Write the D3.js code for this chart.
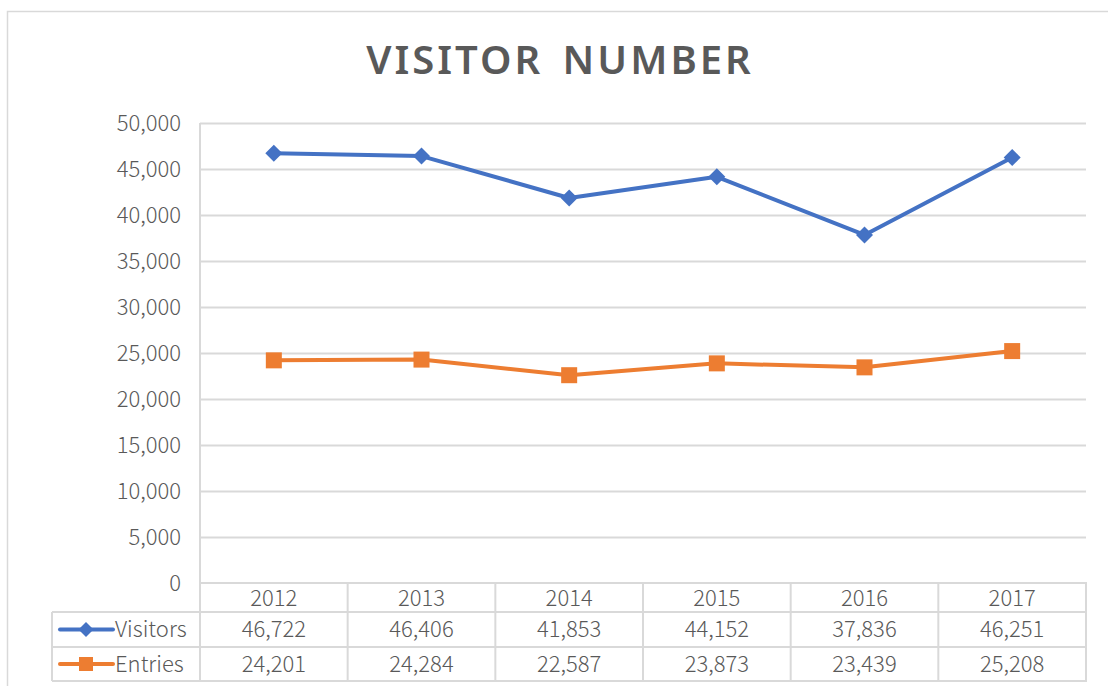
<!DOCTYPE html>
<html>
<head>
<meta charset="utf-8">
<script src="https://cdn.jsdelivr.net/npm/d3@7"></script>
<style>
  html, body { margin: 0; padding: 0; background: #fff; }
  svg { display: block; }
</style>
</head>
<body>
<svg id="chart" width="1108" height="686"></svg>
<script>
const years = ["2012", "2013", "2014", "2015", "2016", "2017"];
const visitors = [46722, 46406, 41853, 44152, 37836, 46251];
const entries = [24201, 24284, 22587, 23873, 23439, 25208];
const seriesNames = ["Visitors", "Entries"];
const yTicks = [0, 5000, 10000, 15000, 20000, 25000, 30000, 35000, 40000, 45000, 50000];
const titleText = "VISITOR NUMBER";

(function () {
const svg = d3.select("#chart");
const textColor = "#595959";
const gridColor = "#d9d9d9";
const colors = ["#4472C4", "#ED7D31"];
const font = "'Noto Sans CJK SC', 'Noto Sans', sans-serif";
const titleFont = "'Noto Sans', 'DejaVu Sans', sans-serif";
const lblWeight = 300;
const lblSize = 22;

svg.append("rect").attr("x", 7.5).attr("y", 11.5).attr("width", 1110).attr("height", 690)
  .attr("fill", "#fff").attr("stroke", gridColor).attr("stroke-width", 1.5);

const pLeft = 200, pRight = 1086, pTop = 123, pBottom = 583;
const x = d3.scaleBand().domain(years).range([pLeft, pRight]).padding(0);
const y = d3.scaleLinear().domain([0, 50000]).range([pBottom, pTop]);

svg.append("text").attr("x", 560).attr("y", 74).attr("text-anchor", "middle")
  .attr("font-family", titleFont).attr("font-size", 40).attr("font-weight", 600)
  .attr("letter-spacing", 3).attr("word-spacing", 6)
  .attr("fill", textColor).text(titleText);

svg.append("g").selectAll("line").data(yTicks.filter(d => d > 0)).join("line")
  .attr("x1", pLeft).attr("x2", pRight)
  .attr("y1", d => Math.round(y(d)) + 0.5).attr("y2", d => Math.round(y(d)) + 0.5)
  .attr("stroke", gridColor).attr("stroke-width", 2);

const yAxis = d3.axisLeft(y).tickValues(yTicks).tickSize(0).tickPadding(19)
  .tickFormat(d3.format(","));
const gy = svg.append("g").attr("transform", `translate(${pLeft},0)`).call(yAxis);
gy.select(".domain").remove();
gy.selectAll("text").attr("font-family", font).attr("font-size", lblSize).attr("font-weight", lblWeight)
  .attr("fill", textColor).attr("dy", "0.32em");

svg.append("line").attr("x1", pLeft).attr("x2", pLeft).attr("y1", pTop).attr("y2", 681)
  .attr("stroke", gridColor).attr("stroke-width", 2);

const rowsY = [583, 612, 647, 681];
const legendLeft = 52;
const tbl = svg.append("g");
tbl.append("line").attr("x1", pLeft).attr("x2", pRight + 1).attr("y1", rowsY[0]).attr("y2", rowsY[0])
  .attr("stroke", gridColor).attr("stroke-width", 2);
[rowsY[1], rowsY[2], rowsY[3]].forEach(yy => {
  tbl.append("line").attr("x1", legendLeft).attr("x2", pRight + 1).attr("y1", yy).attr("y2", yy)
    .attr("stroke", gridColor).attr("stroke-width", 2);
});
years.forEach(d => {
  tbl.append("line").attr("x1", x(d) + x.bandwidth()).attr("x2", x(d) + x.bandwidth())
    .attr("y1", rowsY[0]).attr("y2", rowsY[3])
    .attr("stroke", gridColor).attr("stroke-width", 2);
});
tbl.append("line").attr("x1", legendLeft).attr("x2", legendLeft)
  .attr("y1", rowsY[1]).attr("y2", rowsY[3]).attr("stroke", gridColor).attr("stroke-width", 2);

tbl.selectAll("text.yr").data(years).join("text").attr("class", "yr")
  .attr("x", d => x(d) + x.bandwidth() / 2).attr("y", (rowsY[0] + rowsY[1]) / 2 + 1)
  .attr("dy", "0.35em").attr("text-anchor", "middle")
  .attr("font-family", font).attr("font-size", lblSize).attr("font-weight", lblWeight)
  .attr("fill", textColor).text(d => d);

const fmt = d3.format(",");
const series = [visitors, entries];
const diamond = s => `M0,${-s}L${s},0L0,${s}L${-s},0Z`;
series.forEach((vals, si) => {
  const cy = (rowsY[si + 1] + rowsY[si + 2]) / 2;
  tbl.selectAll("text.v" + si).data(vals).join("text").attr("class", "v" + si)
    .attr("x", (d, i) => x(years[i]) + x.bandwidth() / 2).attr("y", cy)
    .attr("dy", "0.35em").attr("text-anchor", "middle")
    .attr("font-family", font).attr("font-size", lblSize).attr("font-weight", lblWeight)
    .attr("fill", textColor).text(d => fmt(d));
  tbl.append("line").attr("x1", 60).attr("x2", 113).attr("y1", cy).attr("y2", cy)
    .attr("stroke", colors[si]).attr("stroke-width", 4).attr("stroke-linecap", "round");
  if (si === 0) {
    tbl.append("path").attr("d", diamond(7.5))
      .attr("transform", `translate(86,${cy})`).attr("fill", colors[si]);
  } else {
    tbl.append("rect").attr("x", 86 - 7).attr("y", cy - 7).attr("width", 14).attr("height", 14)
      .attr("fill", colors[si]);
  }
  tbl.append("text").attr("x", 115).attr("y", cy).attr("dy", "0.35em")
    .attr("font-family", font).attr("font-size", lblSize).attr("font-weight", lblWeight)
    .attr("fill", textColor).text(seriesNames[si]);
});

const line = d3.line().x((d, i) => x(years[i]) + x.bandwidth() / 2).y(d => y(d));
series.forEach((vals, si) => {
  svg.append("path").datum(vals).attr("d", line).attr("fill", "none")
    .attr("stroke", colors[si]).attr("stroke-width", 4).attr("stroke-linejoin", "round")
    .attr("stroke-linecap", "round");
});
svg.append("g").selectAll("path").data(visitors).join("path")
  .attr("d", diamond(8.5))
  .attr("transform", (d, i) => `translate(${x(years[i]) + x.bandwidth() / 2},${y(d)})`)
  .attr("fill", colors[0]);
svg.append("g").selectAll("rect").data(entries).join("rect")
  .attr("x", (d, i) => x(years[i]) + x.bandwidth() / 2 - 8)
  .attr("y", d => y(d) - 8).attr("width", 16).attr("height", 16)
  .attr("fill", colors[1]);
})();
</script>
</body>
</html>
